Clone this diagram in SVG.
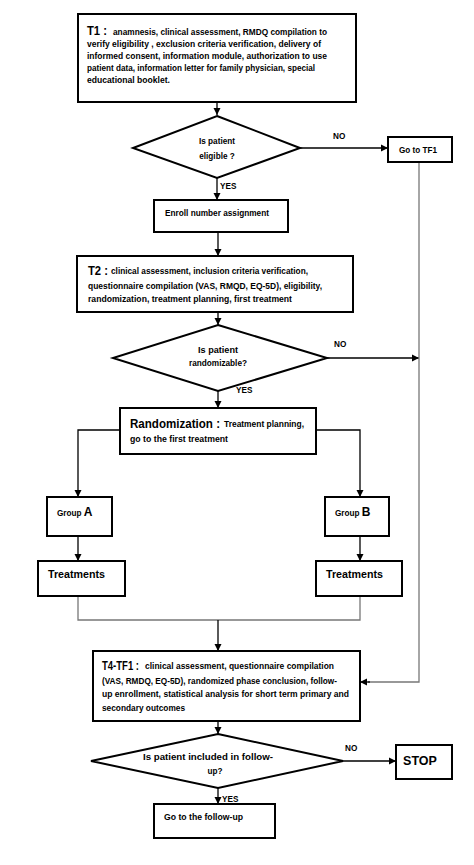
<svg xmlns="http://www.w3.org/2000/svg" width="474" height="865" viewBox="0 0 474 865">
<defs>
<marker id="ah" markerUnits="userSpaceOnUse" markerWidth="8" markerHeight="8" refX="7" refY="4" orient="auto">
<path d="M0,0.5 L7,4 L0,7.5 Z" fill="#000"/>
</marker>
<style>
.box{fill:#fff;stroke:#000;stroke-width:2}
.dia{fill:#fff;stroke:#000;stroke-width:2}
.t{font-family:"Liberation Sans",Arial,sans-serif;font-weight:bold;font-size:8.2px;fill:#000}
.big{font-family:"Liberation Sans",Arial,sans-serif;font-weight:bold;font-size:12.5px;fill:#000}
.c{text-anchor:middle}
.ln{fill:none;stroke:#000;stroke-width:1.3}
.gl{fill:none;stroke:#777;stroke-width:1.3}
</style>
</defs>
<rect width="474" height="865" fill="#fff"/>
<g id="connectors">
<line class="ln" x1="217" y1="102" x2="217" y2="115" marker-end="url(#ah)"/>
<line class="ln" x1="300" y1="148" x2="388" y2="148" marker-end="url(#ah)"/>
<line class="ln" x1="217" y1="178" x2="217" y2="200" marker-end="url(#ah)"/>
<line class="ln" x1="218" y1="232" x2="218" y2="256" marker-end="url(#ah)"/>
<line class="ln" x1="218" y1="312" x2="218" y2="325" marker-end="url(#ah)"/>
<line class="ln" x1="327" y1="358" x2="419" y2="358" marker-end="url(#ah)"/>
<line class="ln" x1="218" y1="391" x2="218" y2="408" marker-end="url(#ah)"/>
<polyline class="ln" points="120,430 78,430 78,497" marker-end="url(#ah)"/>
<polyline class="ln" points="316,430 360,430 360,497" marker-end="url(#ah)"/>
<line class="ln" x1="78" y1="536" x2="78" y2="561" marker-end="url(#ah)"/>
<line class="ln" x1="360" y1="536" x2="360" y2="561" marker-end="url(#ah)"/>
<polyline class="gl" points="78,596 78,620 360,620 360,596"/>
<line class="ln" x1="218" y1="620" x2="218" y2="651" marker-end="url(#ah)"/>
<polyline class="gl" points="419,162 419,682 368,682"/>
<line class="ln" x1="370" y1="682" x2="360" y2="682" marker-end="url(#ah)"/>
<line class="ln" x1="218" y1="721" x2="218" y2="734" marker-end="url(#ah)"/>
<line class="ln" x1="343" y1="761" x2="396" y2="761" marker-end="url(#ah)"/>
<line class="ln" x1="218" y1="788" x2="218" y2="804" marker-end="url(#ah)"/>
<text class="t" x="333" y="139">NO</text>
<text class="t" x="220" y="189">YES</text>
<text class="t" x="334" y="347">NO</text>
<text class="t" x="236" y="393">YES</text>
<text class="t" x="345" y="751">NO</text>
<text class="t" x="222" y="802">YES</text>
</g>
<g id="t1">
<rect class="box" x="78" y="14" width="278" height="88"/>
<text class="big" x="87" y="35" textLength="20" lengthAdjust="spacingAndGlyphs">T1 :</text>
<text class="t" x="113" y="35" textLength="214" lengthAdjust="spacingAndGlyphs">anamnesis, clinical assessment, RMDQ compilation to</text>
<text class="t" x="87" y="47" textLength="234" lengthAdjust="spacingAndGlyphs">verify eligibility , exclusion criteria verification, delivery  of</text>
<text class="t" x="87" y="59" textLength="240" lengthAdjust="spacingAndGlyphs">informed consent, information module, authorization to use</text>
<text class="t" x="87" y="71" textLength="228" lengthAdjust="spacingAndGlyphs">patient data, information letter for family physician, special</text>
<text class="t" x="87" y="83" textLength="83" lengthAdjust="spacingAndGlyphs">educational booklet.</text>
</g>
<g id="d1">
<polygon class="dia" points="217,116 300,148 217,178 133,148"/>
<text class="t c" x="217" y="144" textLength="36" lengthAdjust="spacingAndGlyphs">Is patient</text>
<text class="t c" x="217" y="159">eligible ?</text>
</g>
<g id="tf1">
<rect class="box" x="388" y="137" width="64" height="25"/>
<text class="t" x="399" y="153" textLength="38" lengthAdjust="spacingAndGlyphs">Go to TF1</text>
</g>
<g id="enroll">
<rect class="box" x="154" y="200" width="134" height="32"/>
<text class="t" x="165" y="216" textLength="104" lengthAdjust="spacingAndGlyphs">Enroll number assignment</text>
</g>
<g id="t2">
<rect class="box" x="77" y="256" width="276" height="56"/>
<text class="big" x="88" y="275" textLength="20" lengthAdjust="spacingAndGlyphs">T2 :</text>
<text class="t" x="111" y="274" textLength="197" lengthAdjust="spacingAndGlyphs">clinical assessment, inclusion criteria verification,</text>
<text class="t" x="88" y="289" textLength="234" lengthAdjust="spacingAndGlyphs">questionnaire compilation (VAS, RMQD, EQ-5D), eligibility,</text>
<text class="t" x="88" y="302" textLength="204" lengthAdjust="spacingAndGlyphs">randomization, treatment planning, first treatment</text>
</g>
<g id="d2">
<polygon class="dia" points="218,325 327,358 218,391 113,358"/>
<text class="t c" x="218" y="353" textLength="40" lengthAdjust="spacingAndGlyphs">Is  patient</text>
<text class="t c" x="218" y="366" textLength="58" lengthAdjust="spacingAndGlyphs">randomizable?</text>
</g>
<g id="rand">
<rect class="box" x="120" y="408" width="196" height="46"/>
<text class="big" x="130" y="428" textLength="90" lengthAdjust="spacingAndGlyphs">Randomization :</text>
<text class="t" x="224" y="427" textLength="80" lengthAdjust="spacingAndGlyphs">Treatment planning,</text>
<text class="t" x="130" y="442" textLength="98" lengthAdjust="spacingAndGlyphs">go to the first treatment</text>
</g>
<g id="groupA">
<rect class="box" x="47" y="497" width="65" height="39"/>
<text class="t" x="57" y="516">Group <tspan style="font-size:12px">A</tspan></text>
</g>
<g id="groupB">
<rect class="box" x="325" y="497" width="64" height="39"/>
<text class="t" x="335" y="516">Group <tspan style="font-size:12px">B</tspan></text>
</g>
<g id="treatA">
<rect class="box" x="38" y="561" width="87" height="35"/>
<text class="t" x="48" y="578" style="font-size:10px" textLength="57" lengthAdjust="spacingAndGlyphs">Treatments</text>
</g>
<g id="treatB">
<rect class="box" x="316" y="561" width="86" height="35"/>
<text class="t" x="326" y="578" style="font-size:10px" textLength="57" lengthAdjust="spacingAndGlyphs">Treatments</text>
</g>
<g id="t4">
<rect class="box" x="93" y="651" width="267" height="70"/>
<text class="big" x="102" y="670" textLength="37" lengthAdjust="spacingAndGlyphs">T4-TF1 :</text>
<text class="t" x="145" y="669" textLength="189" lengthAdjust="spacingAndGlyphs">clinical assessment, questionnaire compilation</text>
<text class="t" x="102" y="684" textLength="235" lengthAdjust="spacingAndGlyphs">(VAS, RMDQ, EQ-5D), randomized phase conclusion, follow-</text>
<text class="t" x="102" y="697" textLength="247" lengthAdjust="spacingAndGlyphs">up enrollment, statistical analysis for short  term primary  and</text>
<text class="t" x="102" y="711" textLength="83" lengthAdjust="spacingAndGlyphs">secondary outcomes</text>
</g>
<g id="d3">
<polygon class="dia" points="218,734 343,761 218,788 91,761"/>
<text class="t c" x="208" y="760" textLength="130" lengthAdjust="spacingAndGlyphs">Is patient included in follow-</text>
<text class="t c" x="215" y="774">up?</text>
</g>
<g id="stop">
<rect class="box" x="396" y="745" width="56" height="34"/>
<text class="t c" x="420" y="765" style="font-size:12.5px">STOP</text>
</g>
<g id="followup">
<rect class="box" x="154" y="804" width="121" height="34"/>
<text class="t" x="164" y="820" textLength="79" lengthAdjust="spacingAndGlyphs">Go to the follow-up</text>
</g>
</svg>
